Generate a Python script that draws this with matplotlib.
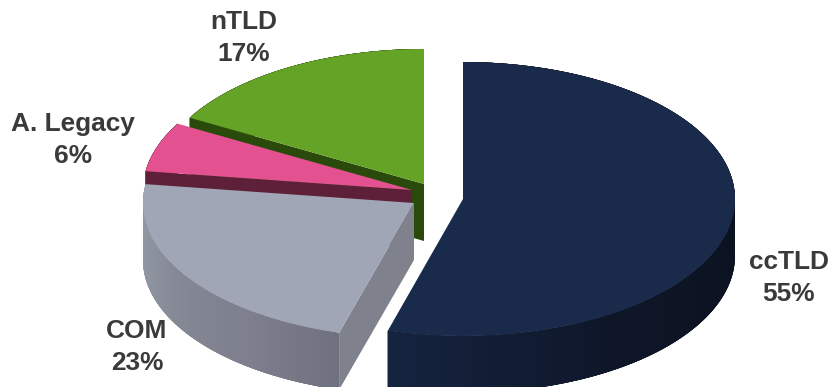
import numpy as np
import matplotlib
matplotlib.use("Agg")
import matplotlib.pyplot as plt
from matplotlib.colors import LinearSegmentedColormap
from matplotlib.patches import Polygon
from matplotlib.collections import PolyCollection

plt.rcParams['font.family'] = ['Liberation Sans', 'DejaVu Sans']

categories = ["ccTLD", "COM", "A. Legacy", "nTLD"]
shares = [55, 23, 6, 17]

# pie geometry, in figure pixels
centers = [(463, 199), (414, 203), (412, 190), (424, 184)]
radii_x = [272, 271, 269, 269]
radii_y = [137, 135, 135, 135]
label_pos = [(789, 278), (137, 347), (73, 140), (244, 38)]
DEPTH = 57

top_colors = ["#1a2a4b", "#a0a6b5", "#e35190", "#65a326"]
cut_colors = ["#0d1524", "#7f828d", "#5e2038", "#2a4a0c"]
# outer wall shading, from the clockwise start of the slice to its end
wall_stops = [
    ["#0a0f1a", "#0a0f1a", "#0b1220", "#0e1628", "#16233f"],
    ["#6f727e", "#7d808c", "#838793", "#8f94a1", "#9196a3"],
    ["#5e2038", "#5e2038"],
    ["#2a4a0c", "#2a4a0c"],
]

fractions = np.array(shares) / sum(shares)
starts = np.concatenate([[0], np.cumsum(fractions)[:-1]]) * 2 * np.pi
ends = starts + fractions * 2 * np.pi


def rim(center, rx, ry, a, b, n=200):
    # angles run clockwise from twelve o'clock
    t = np.linspace(a, b, n)
    return center[0] + rx * np.sin(t), center[1] - ry * np.cos(t)


fig = plt.figure(figsize=(8.31, 3.87), dpi=100)
ax = fig.add_axes([0, 0, 1, 1])
ax.set_xlim(0, 831)
ax.set_ylim(387, 0)
ax.axis("off")

# back slices first so the nearer ones cover them
for i in [3, 2, 1, 0]:
    c = centers[i]
    rx, ry = radii_x[i], radii_y[i]
    a, b = starts[i], ends[i]

    # cut face at the start of the slice
    x0 = c[0] + rx * np.sin(a)
    y0 = c[1] - ry * np.cos(a)
    cut = [c, (x0, y0), (x0, y0 + DEPTH), (c[0], c[1] + DEPTH)]
    ax.add_patch(Polygon(cut, fc=cut_colors[i], ec="none", zorder=i * -3 + 10))

    # outer wall as shaded strips, each overlapping the next to avoid seams
    xs, ys = rim(c, rx, ry, a, b)
    quads = []
    for j in range(len(xs) - 1):
        k = min(j + 4, len(xs) - 1)
        quads.append([(xs[j], ys[j]), (xs[k], ys[k]),
                      (xs[k], ys[k] + DEPTH), (xs[j], ys[j] + DEPTH)])
    cmap = LinearSegmentedColormap.from_list("wall", wall_stops[i])
    shades = cmap(np.linspace(0, 1, len(quads)))
    ax.add_collection(PolyCollection(quads, facecolors=shades, edgecolors="none",
                                     linewidths=0, zorder=i * -3 + 11))

    # top face
    top = [c] + list(zip(xs, ys))
    ax.add_patch(Polygon(top, fc=top_colors[i], ec="none", zorder=i * -3 + 12))

for name, share, pos in zip(categories, shares, label_pos):
    ax.text(pos[0], pos[1], f"{name}\n{share}%", ha="center", va="center",
            fontsize=18.9, fontweight="bold", color="#3a3a3a", linespacing=1.37, zorder=20)

fig.savefig("out.png", dpi=100)
